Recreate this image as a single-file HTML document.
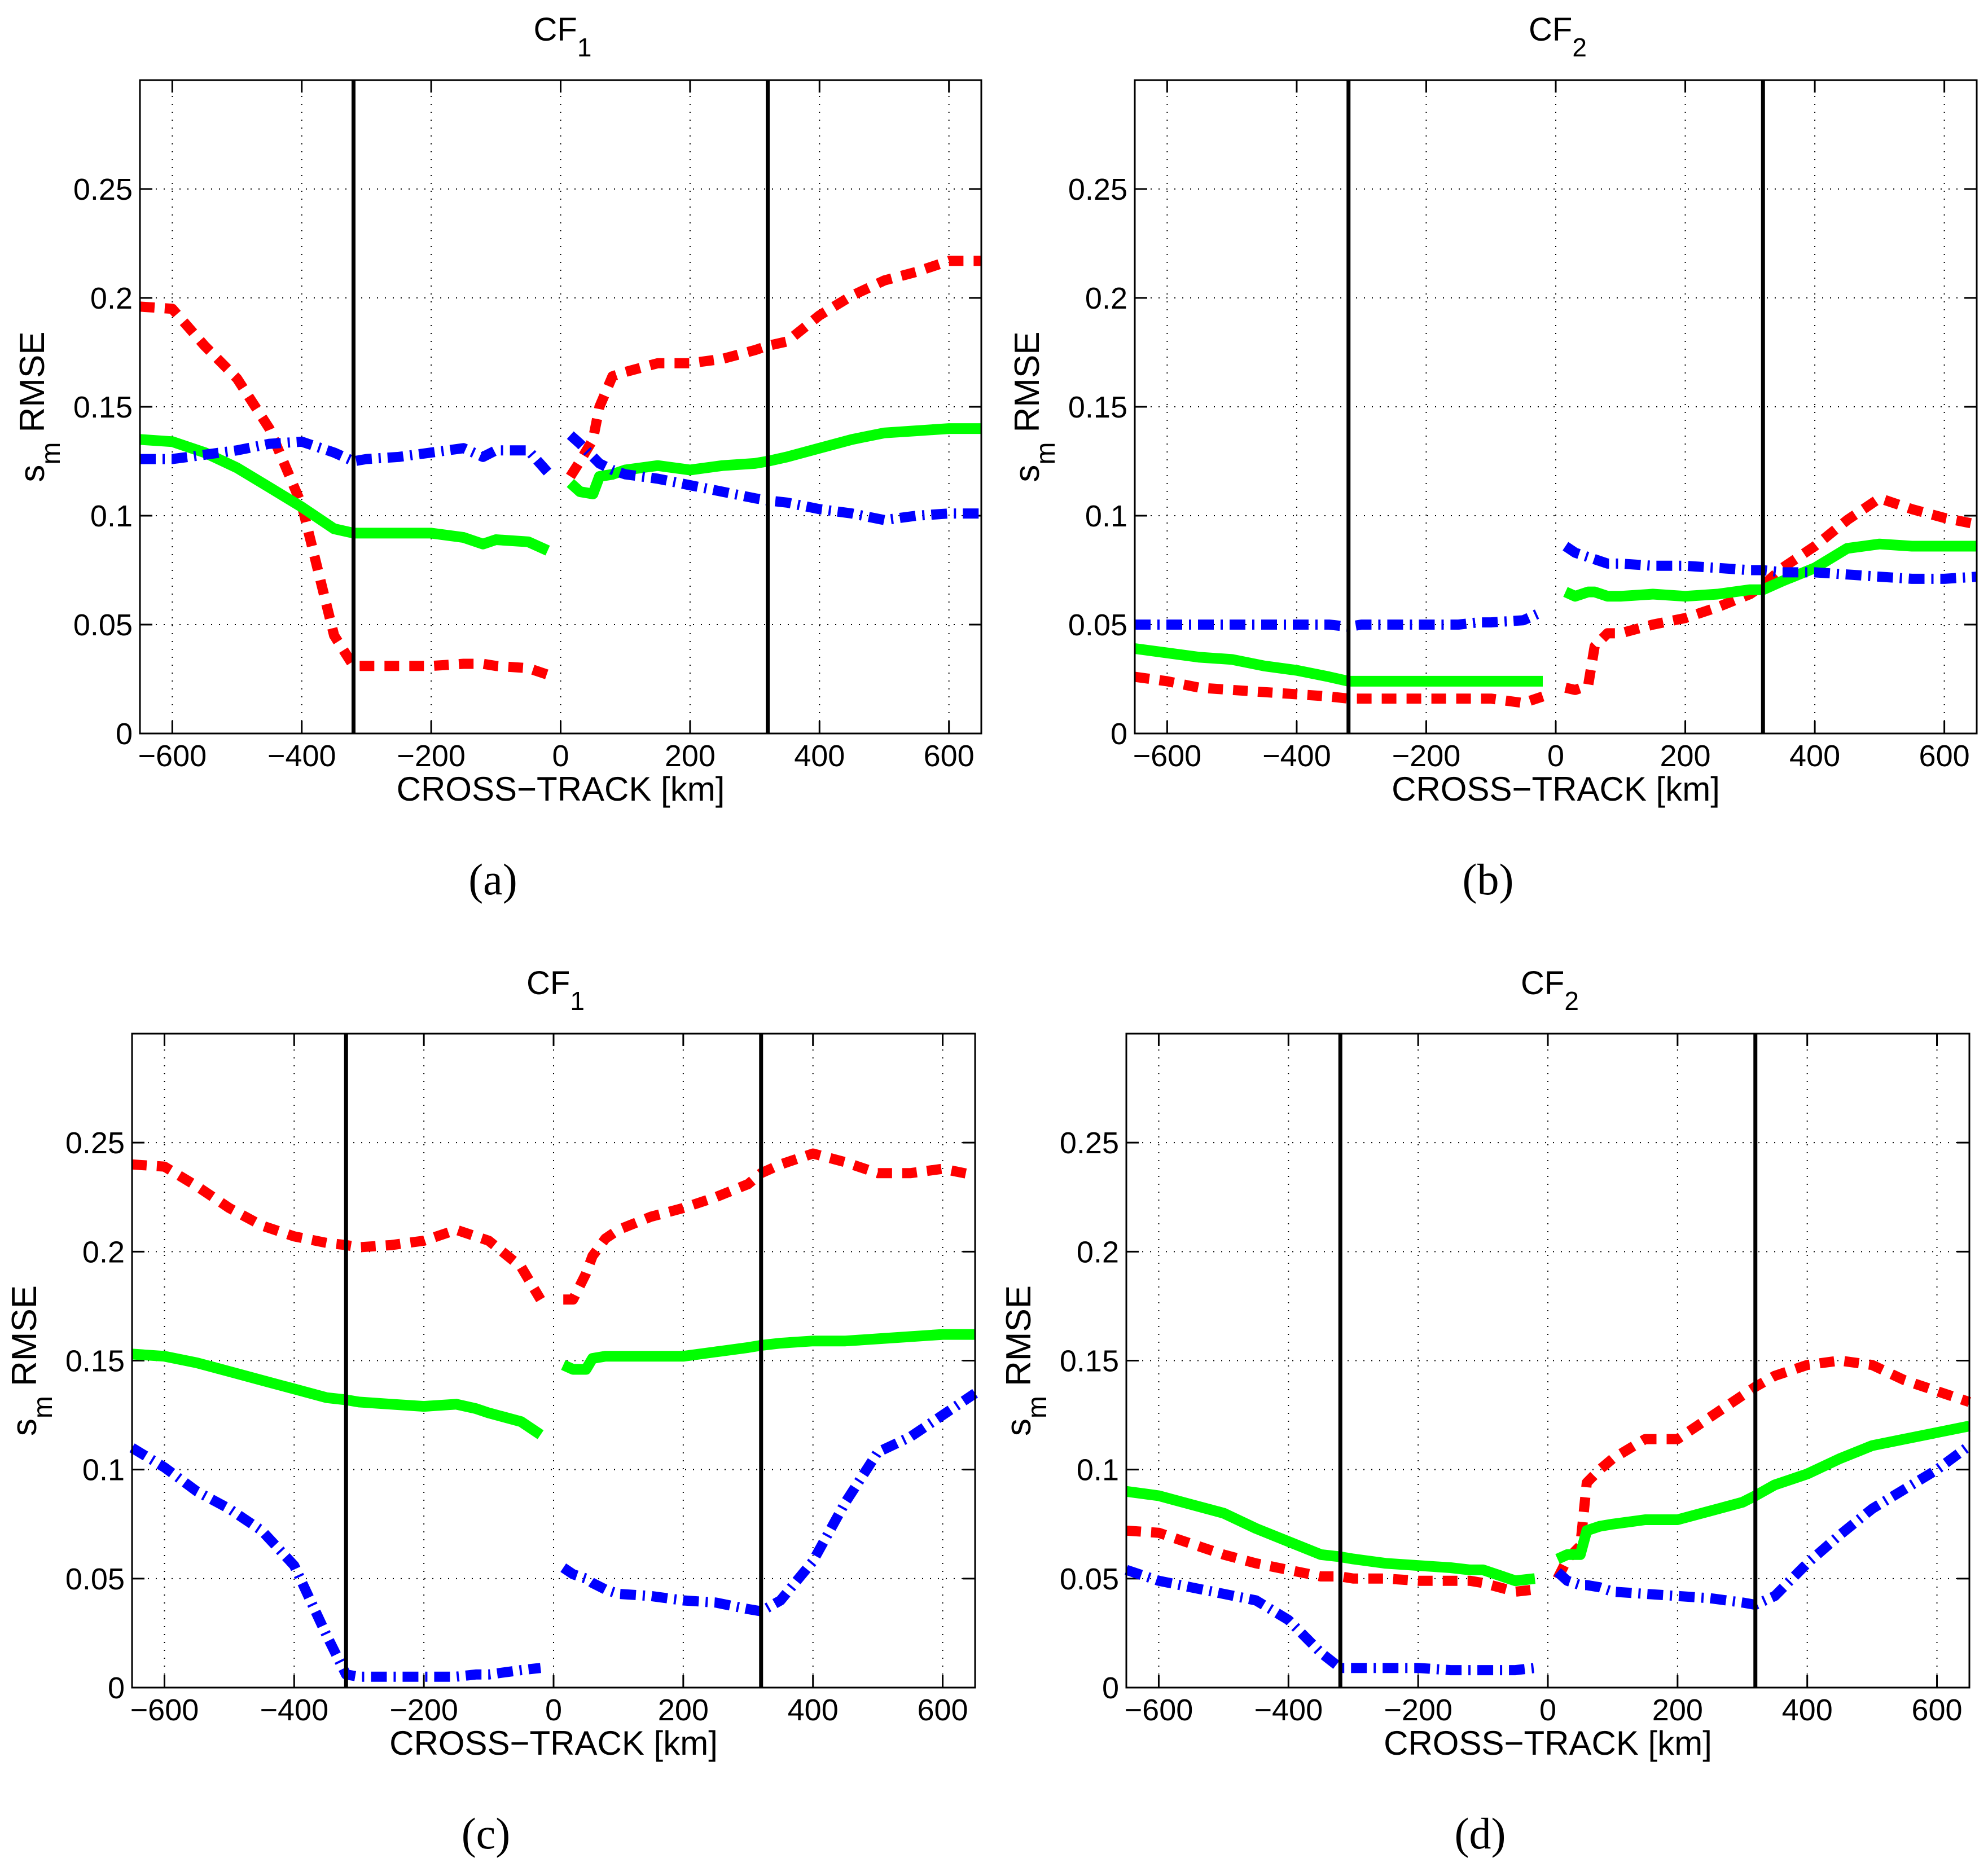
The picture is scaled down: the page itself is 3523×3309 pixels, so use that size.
<!DOCTYPE html>
<html><head><meta charset="utf-8"><style>
html,body{margin:0;padding:0;background:#fff;}
svg{display:block;}
text{font-family:"Liberation Sans",sans-serif;fill:#000;}
.cap{font-family:"Liberation Serif",serif;}
</style></head><body>
<svg id="fig" width="3523" height="3309" viewBox="0 0 3523 3309" xmlns="http://www.w3.org/2000/svg"></svg>
<script>
const xTicks=[-600,-400,-200,0,200,400,600];
const yTicks=[0,0.05,0.1,0.15,0.2,0.25];
const yTickLabels=["0","0.05","0.1","0.15","0.2","0.25"];
const xLeft=[-650,-600,-550,-500,-450,-400,-350,-320,-300,-250,-200,-150,-120,-100,-50,-20];
const xRight=[15,30,50,60,80,100,150,200,250,300,320,350,400,450,500,550,600,650];
const swathEdges=[-320,320];
const panelTitles=["1","2","1","2"];
const captions=["(a)","(b)","(c)","(d)"];
// panel a
const aRedL=[.196,.195,.178,.163,.140,.105,.045,.031,.031,.031,.031,.032,.032,.031,.030,.027];
const aRedR=[.118,.125,.135,.150,.164,.166,.170,.170,.172,.176,.178,.180,.192,.201,.208,.212,.217,.217];
const aGreenL=[.135,.134,.129,.122,.113,.104,.094,.092,.092,.092,.092,.090,.087,.089,.088,.084];
const aGreenR=[.115,.111,.110,.118,.119,.121,.123,.121,.123,.124,.125,.127,.131,.135,.138,.139,.140,.140];
const aBlueL=[.126,.126,.128,.130,.133,.134,.129,.125,.126,.127,.129,.131,.127,.130,.130,.120];
const aBlueR=[.137,.133,.127,.124,.121,.119,.117,.114,.111,.108,.107,.106,.103,.101,.098,.100,.101,.101];
// panel b
const bRedL=[.026,.024,.021,.020,.019,.018,.017,.016,.016,.016,.016,.016,.016,.016,.014,.017];
const bRedR=[.021,.020,.022,.040,.046,.046,.050,.053,.058,.064,.068,.076,.086,.098,.108,.103,.099,.096];
const bGreenL=[.039,.037,.035,.034,.031,.029,.026,.024,.024,.024,.024,.024,.024,.024,.024,.024];
const bGreenR=[.065,.063,.065,.065,.063,.063,.064,.063,.064,.066,.066,.070,.076,.085,.087,.086,.086,.086];
const bBlueL=[.050,.050,.050,.050,.050,.050,.050,.049,.050,.050,.050,.050,.051,.051,.052,.056];
const bBlueR=[.086,.083,.081,.080,.078,.078,.077,.077,.076,.075,.075,.074,.074,.073,.072,.071,.071,.072];
// panel c
const cRedL=[.240,.239,.230,.220,.212,.207,.204,.203,.202,.203,.205,.210,.207,.205,.193,.178];
const cRedR=[.178,.178,.190,.198,.206,.210,.216,.220,.225,.231,.236,.240,.245,.241,.236,.236,.238,.235];
const cGreenL=[.153,.152,.149,.145,.141,.137,.133,.132,.131,.130,.129,.130,.128,.126,.122,.116];
const cGreenR=[.148,.146,.146,.151,.152,.152,.152,.152,.154,.156,.157,.158,.159,.159,.160,.161,.162,.162];
const cBlueL=[.110,.101,.090,.082,.072,.056,.024,.006,.005,.005,.005,.005,.006,.006,.008,.009];
const cBlueR=[.055,.052,.050,.048,.045,.043,.042,.040,.039,.036,.035,.040,.058,.085,.108,.115,.125,.135];
// panel d
const dRedL=[.072,.071,.066,.061,.057,.054,.051,.051,.050,.050,.049,.049,.049,.048,.044,.045];
const dRedR=[.050,.059,.065,.094,.100,.105,.114,.114,.124,.134,.138,.143,.148,.150,.148,.141,.136,.131];
const dGreenL=[.090,.088,.084,.080,.073,.067,.061,.060,.059,.057,.056,.055,.054,.054,.049,.050];
const dGreenR=[.059,.061,.061,.072,.074,.075,.077,.077,.081,.085,.088,.093,.098,.105,.111,.114,.117,.120];
const dBlueL=[.054,.049,.046,.043,.040,.031,.016,.009,.009,.009,.009,.008,.008,.008,.008,.009];
const dBlueR=[.053,.049,.047,.047,.046,.044,.043,.042,.041,.039,.038,.042,.057,.070,.082,.091,.100,.111];

const NS="http://www.w3.org/2000/svg";
const svg=document.getElementById('fig');
function mk(tag,attrs,parent){const e=document.createElementNS(NS,tag);for(const k in attrs)e.setAttribute(k,attrs[k]);(parent||svg).appendChild(e);return e;}

const panels=[
 {L:248,R:1739,T:142,B:1300,red:[aRedL,aRedR],green:[aGreenL,aGreenR],blue:[aBlueL,aBlueR]},
 {L:2011,R:3503,T:142,B:1300,red:[bRedL,bRedR],green:[bGreenL,bGreenR],blue:[bBlueL,bBlueR]},
 {L:234,R:1728,T:1832,B:2991,red:[cRedL,cRedR],green:[cGreenL,cGreenR],blue:[cBlueL,cBlueR]},
 {L:1996,R:3490,T:1832,B:2991,red:[dRedL,dRedR],green:[dGreenL,dGreenR],blue:[dBlueL,dBlueR]}
];
const styles={
 green:{stroke:'#00ff00',w:19,dash:null},
 red:{stroke:'#ff0000',w:18,dash:'26 18'},
 blue:{stroke:'#0000ff',w:18,dash:'28 12 4 12'}
};
panels.forEach((p,i)=>{
  const g=mk('g',{});
  
  
  const xs=v=>p.L+(v+650)/1300*(p.R-p.L);
  const ys=v=>p.B-v/0.3*(p.B-p.T);
  xTicks.forEach(t=>{
    const l=mk('line',{x1:xs(t),x2:xs(t),y1:p.T,y2:p.B,stroke:'#000','stroke-width':2,'stroke-dasharray':'2 12'},g);
    
    
    mk('line',{x1:xs(t),x2:xs(t),y1:p.B,y2:p.B-22,stroke:'#000','stroke-width':3},g);
    mk('line',{x1:xs(t),x2:xs(t),y1:p.T,y2:p.T+22,stroke:'#000','stroke-width':3},g);
    const tx=mk('text',{x:xs(t),y:p.B+58,'font-size':54,'text-anchor':'middle'},g);
    tx.textContent=(t<0?'\u2212'+(-t):String(t));
    
    
  });
  yTicks.forEach((t,k)=>{
    if(t>0){
      const l=mk('line',{x1:p.L,x2:p.R,y1:ys(t),y2:ys(t),stroke:'#000','stroke-width':2,'stroke-dasharray':'2 12'},g);
      
      
    }
    mk('line',{x1:p.L,x2:p.L+22,y1:ys(t),y2:ys(t),stroke:'#000','stroke-width':3},g);
    mk('line',{x1:p.R,x2:p.R-22,y1:ys(t),y2:ys(t),stroke:'#000','stroke-width':3},g);
    const tx=mk('text',{x:p.L-13,y:ys(t)+19,'font-size':54,'text-anchor':'end'},g);
    tx.textContent=yTickLabels[k];
    
    
  });
  ['red','green','blue'].forEach(s=>{
    const st=styles[s];
    [[xLeft,p[s][0]],[xRight,p[s][1]]].forEach(([xa,ya],seg)=>{
      const d=xa.map((x,j)=>(j?'L':'M')+xs(x).toFixed(1)+' '+ys(ya[j]).toFixed(1)).join(' ');
      const a={d:d,fill:'none',stroke:st.stroke,'stroke-width':st.w,'stroke-linejoin':'round'};
      if(st.dash)a['stroke-dasharray']=st.dash;
      const path=mk('path',a,g);
      
      
    });
  });
  swathEdges.forEach(e=>{
    const l=mk('line',{x1:xs(e),x2:xs(e),y1:p.T,y2:p.B,stroke:'#000','stroke-width':7},g);
    
    
  });
  const box=mk('rect',{x:p.L,y:p.T,width:p.R-p.L,height:p.B-p.T,fill:'none',stroke:'#000','stroke-width':3},g);
  
  
  const cx=(p.L+p.R)/2;
  const ti=mk('text',{x:cx-48,y:p.T-70,'font-size':58},g);
  
  
  ti.appendChild(document.createTextNode('CF'));
  const sub=mk('tspan',{'font-size':46,dy:28},ti);sub.textContent=panelTitles[i];
  const xl=mk('text',{x:cx,y:p.B+119,'font-size':60,'text-anchor':'middle'},g);
  xl.textContent='CROSS\u2212TRACK [km]';
  
  
  const yx=p.L-170, yy=(p.T+p.B)/2;
  const yl=mk('text',{x:yx,y:yy,'font-size':62,'text-anchor':'middle',transform:'rotate(-90 '+yx+' '+yy+')'},g);
  
  
  yl.appendChild(document.createTextNode('s'));
  const m=mk('tspan',{'font-size':48,dy:28},yl);m.textContent='m';
  const r=mk('tspan',{dy:-28},yl);r.textContent=' RMSE';
  const cp=mk('text',{x:cx-120,y:p.B+285,'font-size':78,'text-anchor':'middle',class:'cap'},g);
  cp.textContent=captions[i];
  
  
});
</script>
</body></html>
